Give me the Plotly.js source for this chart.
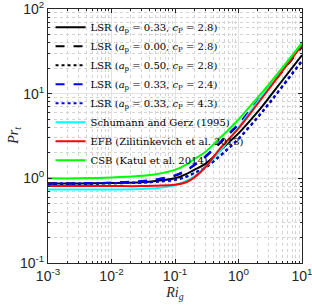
<!DOCTYPE html>
<html><head><meta charset="utf-8">
<script src="https://cdn.plot.ly/plotly-3.0.1.min.js"></script>
<style>html,body{margin:0;padding:0;background:#fff}</style>
</head><body>
<div id="chart" style="width:312px;height:305px"></div>
<script>
const ri = [0.001, 0.003, 0.01, 0.03, 0.05, 0.1, 0.15, 0.2, 0.3, 0.5, 0.7, 1, 2, 3, 5, 10];
const lsrBase   = [0.87, 0.87, 0.88, 0.90, 0.93, 1.00, 1.12, 1.26, 1.48, 2.08, 2.65, 3.4, 6.1, 8.9, 14.6, 28.5];
const lsrAp0    = [0.87, 0.87, 0.89, 0.92, 0.96, 1.07, 1.23, 1.42, 1.78, 2.55, 3.30, 4.3, 8.0, 11.6, 18.6, 35.5];
const lsrAp05   = [0.86, 0.86, 0.87, 0.89, 0.91, 0.96, 1.04, 1.15, 1.33, 1.80, 2.25, 2.9, 5.2, 7.5, 12.3, 24.0];
const lsrCp24   = [0.87, 0.87, 0.89, 0.93, 0.97, 1.09, 1.25, 1.45, 1.82, 2.62, 3.38, 4.4, 8.2, 11.9, 19.1, 36.8];
const lsrCp43   = [0.87, 0.87, 0.88, 0.89, 0.91, 0.97, 1.05, 1.16, 1.35, 1.83, 2.30, 2.95, 5.3, 7.7, 12.6, 24.8];
const schumann  = [0.74, 0.74, 0.74, 0.75, 0.765, 0.83, 0.93, 1.05, 1.35, 2.05, 2.82, 4.0, 8.0, 12.0, 20.0, 40.0];
const efb       = [0.81, 0.81, 0.81, 0.81, 0.82, 0.84, 0.90, 1.02, 1.35, 2.2, 2.9, 3.9, 7.6, 11.3, 18.8, 37.5];
const csb       = [1.00, 1.00, 1.02, 1.07, 1.12, 1.26, 1.45, 1.68, 2.05, 2.95, 3.75, 4.95, 9.0, 12.8, 20.6, 39.5];

const xTickVals = [0.001, 0.01, 0.1, 1, 10];
const xTickText = ['10<sup>-3</sup>', '10<sup>-2</sup>', '10<sup>-1</sup>', '10<sup>0</sup>', '10<sup>1</sup>'];
const yTickVals = [0.1, 1, 10, 100];
const yTickText = ['10<sup>-1</sup>', '10<sup>0</sup>', '10<sup>1</sup>', '10<sup>2</sup>'];
const xMinorVals = [0.002,0.003,0.004,0.005,0.006,0.007,0.008,0.009,
  0.02,0.03,0.04,0.05,0.06,0.07,0.08,0.09, 0.2,0.3,0.4,0.5,0.6,0.7,0.8,0.9, 2,3,4,5,6,7,8,9];
const yMinorVals = [0.2,0.3,0.4,0.5,0.6,0.7,0.8,0.9, 2,3,4,5,6,7,8,9, 20,30,40,50,60,70,80,90];

const names = [
  'LSR (<i>a</i><sub>p</sub> = 0.33, <i>c</i><sub>P</sub> = 2.8)',
  'LSR (<i>a</i><sub>p</sub> = 0.00, <i>c</i><sub>P</sub> = 2.8)',
  'LSR (<i>a</i><sub>p</sub> = 0.50, <i>c</i><sub>P</sub> = 2.8)',
  'LSR (<i>a</i><sub>p</sub> = 0.33, <i>c</i><sub>P</sub> = 2.4)',
  'LSR (<i>a</i><sub>p</sub> = 0.33, <i>c</i><sub>P</sub> = 4.3)',
  'Schumann and Gerz (1995)',
  'EFB (Zilitinkevich et al. 2013)',
  'CSB (Katul et al. 2014)'
];
const series = [lsrBase, lsrAp0, lsrAp05, lsrCp24, lsrCp43, schumann, efb, csb];
const colors = ['#000000','#000000','#000000','#0000ff','#0000ff','#00ffff','#ff0000','#00ff00'];
const dashes = ['solid','dash','dot','dash','dot','solid','solid','solid'];

const traces = series.map((ys, i) => ({
  x: ri, y: ys, name: names[i], type: 'scatter', mode: 'lines',
  line: {color: colors[i], dash: dashes[i], width: 2, shape: 'spline', smoothing: 1}
}));

const axisCommon = {
  type: 'log', tickmode: 'array', ticklabeloverflow: 'allow',
  showline: true, mirror: 'ticks', linecolor: '#262626', linewidth: 1,
  ticks: 'inside', ticklen: 4, tickcolor: '#262626',
  showgrid: true, gridcolor: '#e3e3e3', gridwidth: 1, zeroline: false,
  tickfont: {family: 'Liberation Sans, Arial, sans-serif', size: 14, color: '#262626'}
};
const minorCommon = {tickmode: 'array', showgrid: true, griddash: 'dot', gridcolor: '#d4d4d4', gridwidth: 1,
  ticks: 'inside', ticklen: 2, tickcolor: '#262626'};

const layout = {
  width: 312, height: 305,
  margin: {l: 48, r: 10, t: 9, b: 42},
  paper_bgcolor: '#ffffff', plot_bgcolor: '#ffffff',
  showlegend: true,
  legend: {x: 0.01, y: 0.985, xanchor: 'left', yanchor: 'top', bgcolor: 'rgba(0,0,0,0)',
    font: {family: 'DejaVu Serif, Liberation Serif, serif', size: 10, color: '#000'},
    tracegroupgap: 0, itemwidth: 30},
  xaxis: Object.assign({}, axisCommon, {range: [-3, 1], tickvals: xTickVals, ticktext: xTickText,
    minor: Object.assign({}, minorCommon, {tickvals: xMinorVals}),
    title: {text: '<i>Ri</i><sub><i>g</i></sub>', standoff: 4, font: {family: 'Liberation Serif, DejaVu Serif, serif', size: 14, color: '#262626'}}}),
  yaxis: Object.assign({}, axisCommon, {range: [-1, 2], tickvals: yTickVals, ticktext: yTickText,
    minor: Object.assign({}, minorCommon, {tickvals: yMinorVals})}),
  annotations: [{
    text: '<i>Pr</i><sub><i>t</i></sub>', xref: 'paper', yref: 'paper', x: -0.135, y: 0.5,
    xanchor: 'center', yanchor: 'middle', textangle: -90, showarrow: false,
    font: {family: 'Liberation Serif, DejaVu Serif, serif', size: 14, color: '#262626'}
  }]
};

Plotly.newPlot('chart', traces, layout, {displayModeBar: false, staticPlot: true});
</script>
</body></html>
